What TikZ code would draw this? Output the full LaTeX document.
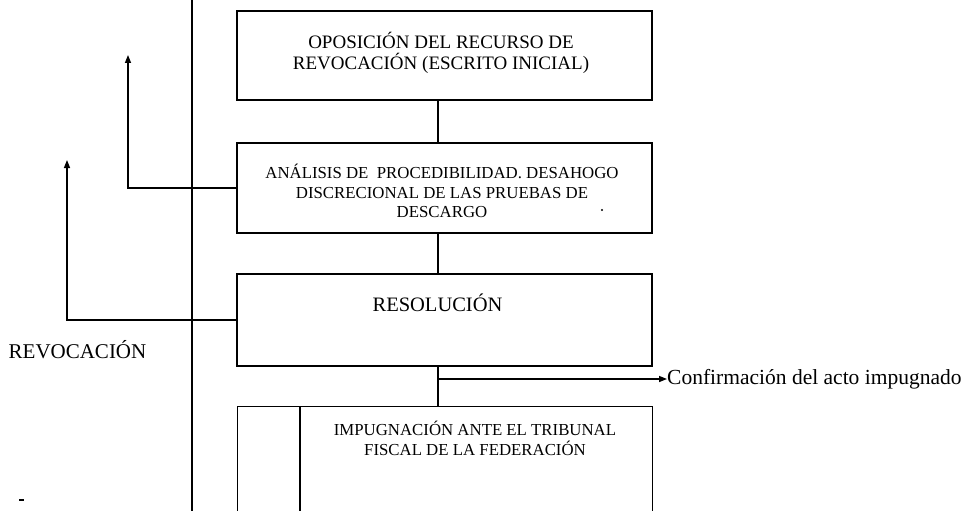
\documentclass[tikz,border=0pt]{standalone}
\usepackage{fontspec}
\setmainfont{Liberation Serif}
\usetikzlibrary{arrows.meta}
\begin{document}
\begin{tikzpicture}[x=1pt,y=-1pt,
  box/.style={draw, line width=1.4pt, minimum width=415pt, minimum height=89pt, inner sep=0pt},
  lbl/.style={inner sep=0pt, align=center},
  big/.style={font=\fontsize{19}{21}\selectfont},
  small/.style={font=\fontsize{16.8}{19.8}\selectfont},
  conn/.style={line width=1.4pt},
  tri/.style={-{Triangle[length=8pt,width=6pt]}}]
\useasboundingbox (0,0) rectangle (964,511);
\clip (0,0) rectangle (964,511);

% boxes
\node[box] (b1) at (444.5,55.5) {};
\node[box, minimum height=90pt] (b2) at (444.5,188) {};
\node[box, minimum height=92pt] (b3) at (444.5,320) {};
\node[box, minimum height=130pt, anchor=north west] (b4) at (237,406) {};
\draw[conn] ([xshift=63pt]b4.north west) -- ++(0,120);

% texts
\node[lbl, big] (t1) at (441,52.5) {OPOSICIÓN DEL RECURSO DE\\REVOCACIÓN (ESCRITO INICIAL)};
\node[lbl, small] (t2) at (442,191) {ANÁLISIS DE \ PROCEDIBILIDAD. DESAHOGO\\DISCRECIONAL DE LAS PRUEBAS DE\\DESCARGO};
\node[lbl, font=\fontsize{20.5}{24}\selectfont] (t3) at (437.5,303) {RESOLUCIÓN};
\node[lbl, small] (t4) at (475,438) {IMPUGNACIÓN ANTE EL TRIBUNAL\\FISCAL DE LA FEDERACIÓN};
\node[lbl, font=\fontsize{21}{24}\selectfont] (rev) at (77.5,350) {REVOCACIÓN};
\node[lbl, font=\fontsize{21.5}{24}\selectfont, anchor=west] (conf) at (667,379) {Confirmación del acto impugnado};

% vertical connectors between boxes
\coordinate (cx) at (438,0);
\draw[conn] (b1.south -| cx) -- (b2.north -| cx);
\draw[conn] (b2.south -| cx) -- (b3.north -| cx);
\draw[conn] (b3.south -| cx) -- (b4.north -| cx);

% confirmation branch
\coordinate (cj) at (438,379);
\draw[conn, tri] (cj) -- (conf.west);

% long vertical line
\coordinate (vtop) at (192,0);
\coordinate (vbot) at (192,511);
\draw[conn] (vtop) -- (vbot);

% return arrows
\coordinate (a1) at (128,55);
\coordinate (a2) at (67,160);
\draw[conn, tri] (b2.west) -| (a1);
\draw[conn, tri] (b3.west) -| (a2);

% stray marks
\fill (602,210) circle (1.2pt);
\draw[line width=1.2pt] (19,500) -- (24,500);
\end{tikzpicture}
\end{document}
